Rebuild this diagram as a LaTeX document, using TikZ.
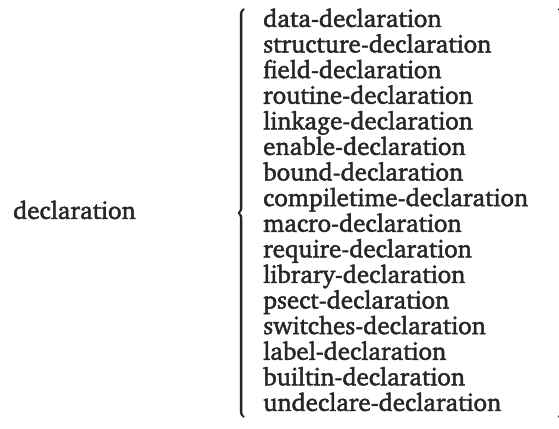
\documentclass[tikz,border=0pt]{standalone}
\usepackage[T1]{fontenc}
\usepackage{charter}
\usetikzlibrary{positioning}
\newcommand{\heavyon}[1]{\special{pdf:literal direct 2 Tr #1 w}}
\newcommand{\heavyoff}{\special{pdf:literal direct 0 Tr}}
\tikzstyle{item} = [anchor=base west, inner sep=0pt, text=black!85, font=\fontsize{25}{26}\selectfont,
  execute at begin node=\heavyon{0.45}, execute at end node=\heavyoff]
\tikzstyle{brace} = [inner sep=0pt, text=black!85, font=\fontsize{22}{22}\selectfont,
  execute at begin node=\heavyon{1.2}, execute at end node=\heavyoff]

\begin{document}
\begin{tikzpicture}[x=1pt, y=1pt]
  \useasboundingbox (0,0) rectangle (559,428);
  \node[item] (decl) at (13,209) {declaration};
  \foreach \kind [count=\i] in {data,structure,field,routine,linkage,enable,bound,compiletime,macro,require,library,psect,switches,label,builtin,undeclare}
    \node[item] (\kind) at (263,{401-(\i-1)*25.6}) {\kind-declaration};
  \node[brace, anchor=east] (lbrace) at (247,215) {$\left\{\vcenter{\hbox{\rule{0pt}{412pt}}}\right.$};
  \node[brace, anchor=west, font=\fontsize{18}{18}\selectfont] (rbrace) at (555.5,215) {$\left.\vcenter{\hbox{\rule{0pt}{412pt}}}\right\}$};
\end{tikzpicture}
\end{document}
